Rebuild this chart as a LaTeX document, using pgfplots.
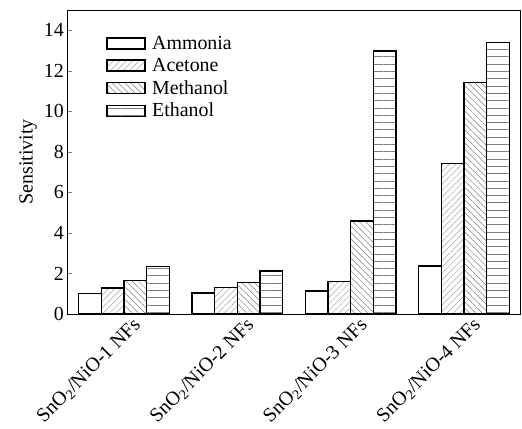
\documentclass[border=0pt]{standalone}
\usepackage{pgfplots}
\pgfplotsset{compat=1.18}
\usepackage{fontspec}
\setmainfont{Liberation Serif}
\usetikzlibrary{patterns.meta}
\begin{document}
\begin{tikzpicture}
\path (-67.3bp,-115bp) rectangle (454.7bp,314bp);
\begin{axis}[
  at={(0,0)}, anchor=south west,
  scale only axis, width=453.4bp, height=304bp,
  xmin=-0.5, xmax=3.5, ymin=0, ymax=15,
  ybar, bar width=0.2,
  xtick={0,1,2,3},
  xticklabels={SnO\textsubscript{2}/NiO-1 NFs, SnO\textsubscript{2}/NiO-2 NFs, SnO\textsubscript{2}/NiO-3 NFs, SnO\textsubscript{2}/NiO-4 NFs},
  x tick style={draw=none},
  xticklabel style={xshift=8bp, yshift=-1bp, rotate=45, anchor=north east, inner sep=1bp},
  ytick={0,2,4,6,8,10,12,14},
  ytick pos=left, tick align=inside,
  major tick length=5bp,
  /pgf/number format/assume math mode=true,
  tick label style={font=\fontsize{20}{22}\selectfont},
  every axis y label/.style={at={(ticklabel cs:0.5)}, rotate=90, anchor=near ticklabel, font=\fontsize{20}{22}\selectfont},
  ylabel={Sensitivity},
  axis line style={line width=1pt},
  legend style={draw=none, fill=none, at={(0.085,0.92)}, anchor=north west,
    font=\fontsize{20}{22}\selectfont, row sep=4.5bp, inner sep=0pt,
    nodes={inner sep=1.5bp},
    /tikz/every odd column/.append style={column sep=5bp}},
  legend cell align=left,
  legend image code/.code={\draw[#1, draw=black, line width=1.6bp] (0bp,-5.5bp) rectangle (38bp,5.5bp);},
]
\addplot[draw=black, line width=1.6bp, fill=white, bar shift=-0.3] coordinates {(0,1.02) (1,1.05) (2,1.14) (3,2.37)};
\addplot[draw=black, line width=1.6bp, pattern={Lines[angle=45,distance=4.5bp,line width=0.5bp]}, pattern color=gray!70, bar shift=-0.1] coordinates {(0,1.27) (1,1.30) (2,1.61) (3,7.42)};
\addplot[draw=black, line width=1.6bp, pattern={Lines[angle=-45,distance=4.5bp,line width=0.5bp]}, pattern color=gray, bar shift=0.1] coordinates {(0,1.66) (1,1.56) (2,4.59) (3,11.42)};
\addplot[draw=black, line width=1.6bp, pattern={Lines[angle=0,distance=7.3bp,line width=0.5bp]}, pattern color=gray, bar shift=0.3] coordinates {(0,2.34) (1,2.12) (2,12.98) (3,13.39)};
\legend{Ammonia, Acetone, Methanol, Ethanol}
\end{axis}
\end{tikzpicture}
\end{document}
